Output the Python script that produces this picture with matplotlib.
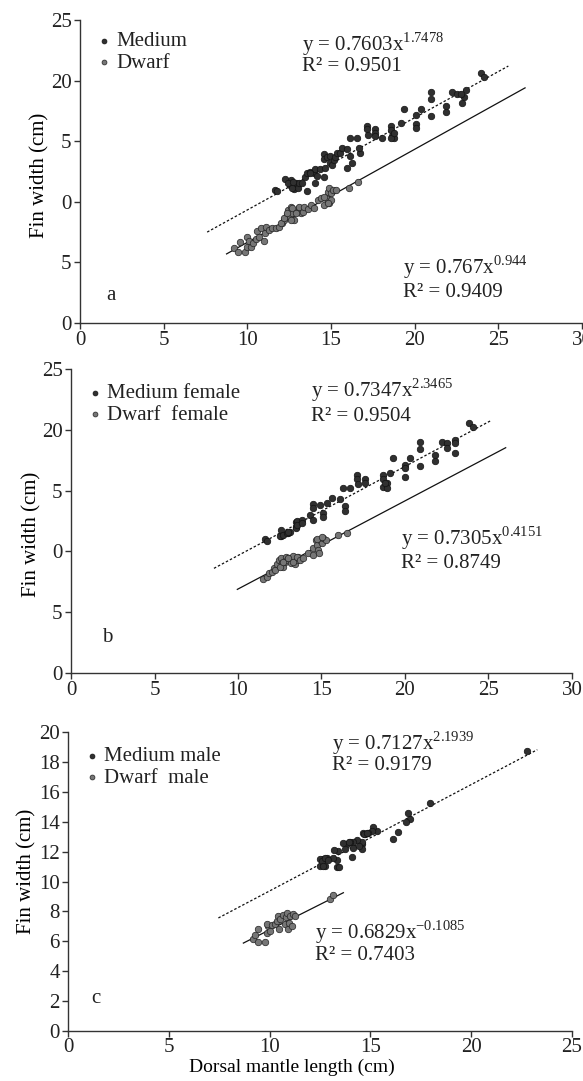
import matplotlib
matplotlib.use("Agg")
import matplotlib.pyplot as plt

plt.rcParams['font.family'] = ['Liberation Serif', 'DejaVu Serif']
plt.rcParams['mathtext.fontset'] = 'custom'
plt.rcParams['mathtext.rm'] = 'Liberation Serif'
plt.rcParams['font.size'] = 15
plt.rcParams['text.color'] = '#222222'

# ---- panel a: all animals ----
a_med_x = [11.64, 11.76, 12.6, 12.56, 12.8, 12.9, 13.0, 13.1, 12.26, 12.46, 12.66, 12.76,
           13.26, 13.56, 13.46, 13.56, 13.76, 13.96, 14.06, 14.36, 14.16, 14.56, 14.06, 13.76,
           14.56, 14.56, 14.66, 14.76, 14.96, 14.96, 15.06, 15.16, 15.26, 15.36, 15.56, 15.66,
           15.96, 16.16, 16.76, 16.26, 15.96, 16.7, 17.16, 17.16, 17.66, 17.66, 17.24, 17.66,
           18.06, 16.56, 16.16, 18.56, 18.56, 18.66, 18.76, 18.56, 18.76, 19.16, 19.36, 20.36,
           20.06, 20.06, 20.06, 21.86, 21.86, 20.96, 20.96, 20.96, 22.26, 22.56, 23.06, 22.96,
           22.86, 22.76, 23.95, 24.15]
a_med_y = [10.97, 10.92, 11.8, 11.39, 11.03, 11.52, 11.11, 11.57, 11.84, 11.57, 11.1, 11.65,
           11.52, 10.91, 12.06, 12.39, 12.47, 12.39, 12.67, 12.67, 12.12, 12.06, 11.57, 12.34,
           13.95, 13.5, 12.81, 13.67, 13.78, 13.17, 13.04, 13.45, 13.72, 14.0, 14.0, 14.42,
           14.33, 13.78, 14.05, 13.22, 12.81, 14.42, 16.25, 15.98, 15.98, 15.7, 15.51, 15.43,
           15.24, 15.24, 15.24, 16.25, 15.92, 15.43, 15.24, 15.24, 15.7, 16.53, 17.66, 17.66,
           17.16, 16.39, 16.11, 17.93, 17.43, 19.03, 18.46, 17.05, 19.03, 18.9, 19.22, 18.67,
           18.13, 18.9, 20.6, 20.27]
a_dw_x = [9.2, 9.46, 9.56, 9.86, 9.96, 10.0, 10.1, 10.2, 10.36, 10.5, 10.6, 10.7, 10.8, 11.0,
          11.06, 11.1, 11.3, 11.46, 11.7, 11.9, 12.1, 12.2, 12.36, 12.46, 12.56, 12.7, 12.6,
          12.8, 13.0, 13.1, 13.2, 12.0, 12.2, 12.4, 12.7, 12.6, 12.9, 13.1, 13.3, 13.4, 13.6,
          13.8, 14.0, 14.2, 14.4, 14.6, 14.7, 14.8, 14.9, 15.0, 15.1, 14.9, 15.0, 15.3, 16.1,
          16.6, 14.6, 14.8]
a_dw_y = [6.16, 5.88, 6.66, 5.88, 6.3, 7.07, 6.8, 6.3, 6.63, 6.91, 7.62, 7.12, 7.81, 6.8,
          7.4, 7.9, 7.67, 7.87, 7.81, 7.95, 8.28, 8.5, 8.91, 9.32, 8.77, 9.05, 9.55,
          8.5, 9.18, 9.46, 9.05, 8.22, 8.63, 9.05, 9.46, 8.5, 9.05, 9.6, 9.18, 9.6, 9.38,
          9.74, 9.46, 10.15, 10.29, 9.74, 10.29, 10.84, 11.11, 10.7, 10.97, 9.87, 10.15, 10.97, 11.11,
          11.66, 10.42, 9.87]
a_med_fit_x = [7.6, 25.6]
a_med_fit_y = [7.5, 21.2]
a_dw_fit_x = [8.76, 26.6]
a_dw_fit_y = [5.7, 19.4]

# ---- panel b: females ----
b_med_x = [11.62, 11.72, 12.57, 12.57, 13.01, 13.11, 13.47, 13.47, 12.51, 12.67, 12.91, 13.01,
           13.47, 13.51, 13.51, 13.81, 13.81, 14.31, 14.51, 15.11, 15.11, 14.51, 14.51, 14.91,
           15.31, 15.6, 16.11, 16.41, 16.41, 16.31, 16.71, 17.11, 17.11, 17.6, 17.6, 17.21,
           18.7, 18.7, 18.7, 18.9, 18.9, 18.8, 19.1, 19.3, 20.3, 20.0, 20.0, 20.0, 21.8, 21.8,
           20.9, 20.9, 20.9, 22.2, 22.5, 22.5, 23.0, 23.0, 23.0, 23.85, 24.05]
b_med_y = [10.99, 10.88, 11.76, 11.27, 11.54, 11.62, 12.44, 12.03, 11.27, 11.35, 11.49, 11.62,
           11.9, 12.5, 12.17, 12.58, 12.31, 12.99, 12.58, 13.13, 12.86, 13.87, 13.54, 13.82,
           13.95, 14.42, 14.28, 13.73, 13.35, 15.24, 15.24, 16.28, 15.93, 15.93, 15.6, 15.54,
           16.28, 15.93, 15.32, 15.6, 15.19, 15.6, 16.47, 17.65, 17.65, 17.1, 16.83, 16.14, 17.93, 17.46,
           19.02, 18.4, 17.02, 19.02, 18.94, 18.47, 18.12, 19.16, 18.89, 20.58, 20.26]
b_dw_x = [11.52, 11.72, 11.87, 12.02, 12.16, 12.22, 12.35, 12.48, 12.56, 12.62, 12.71, 12.81,
          12.87, 12.95, 13.07, 13.16, 13.27, 13.41, 13.51, 13.61, 12.51, 12.71, 13.01, 13.31,
          13.51, 13.71, 13.91, 14.21, 14.51, 14.51, 14.67, 14.71, 14.81, 14.91, 14.87, 15.01,
          15.11, 15.27, 14.71, 16.01, 16.51, 15.01]
b_dw_y = [7.7, 7.92, 8.2, 8.33, 8.61, 8.47, 8.96, 9.29, 9.43, 9.02, 8.74, 9.15,
          9.56, 9.29, 9.43, 9.07, 9.62, 8.96, 9.29, 9.56, 8.74, 9.15, 9.43, 9.15,
          9.56, 9.29, 9.43, 9.84, 9.7, 10.25, 10.94, 10.53, 10.12, 10.94, 9.84, 10.66,
          11.07, 10.94, 10.99, 11.35, 11.54, 11.21]
b_med_fit_x = [8.56, 25.13]
b_med_fit_y = [8.61, 20.75]
b_dw_fit_x = [9.96, 26.03]
b_dw_fit_y = [6.88, 18.53]

# ---- panel c: males ----
c_med_x = [22.75, 17.96, 16.88, 16.96, 16.77, 16.39, 16.1, 15.31, 15.15, 15.06, 14.9, 14.73,
           14.65, 14.57, 14.57, 14.57, 14.32, 14.15, 13.99, 13.82, 13.66, 13.74, 14.15, 14.07,
           13.41, 13.36, 13.33, 13.16, 12.83, 12.66, 12.5, 12.5, 12.77, 12.58, 12.75, 12.88,
           12.63, 13.21, 13.46, 13.95, 14.45, 14.7, 14.82]
c_med_y = [18.71, 15.28, 14.6, 14.18, 13.97, 13.31, 12.87, 13.4, 13.68, 13.36, 13.25, 13.18,
           13.25, 12.48, 12.15, 12.66, 12.81, 12.66, 12.66, 12.52, 12.59, 12.15, 12.26, 11.61,
           12.04, 11.0, 11.43, 11.56, 11.54, 11.5, 11.5, 11.06, 11.06, 11.34, 11.56, 11.45,
           11.06, 12.09, 11.0, 12.66, 12.37, 13.2, 13.25]
c_dw_x = [9.16, 9.28, 9.44, 9.44, 9.77, 9.86, 9.94, 9.86, 10.02, 10.1, 10.27, 10.35, 10.43,
          10.48, 10.52, 10.65, 10.76, 10.81, 10.88, 10.93, 10.98, 11.01, 11.1, 11.18, 11.26,
          13.0, 13.13]
c_dw_y = [6.18, 6.4, 6.8, 5.97, 5.97, 6.54, 7.02, 7.13, 6.69, 7.06, 7.13, 7.34, 7.67,
          6.8, 7.5, 7.78, 7.13, 7.63, 7.89, 6.8, 7.24, 7.67, 7.02, 7.85, 7.72,
          8.81, 9.09]
c_med_fit_x = [7.46, 23.28]
c_med_fit_y = [7.56, 18.82]
c_dw_fit_x = [8.7, 13.66]
c_dw_fit_y = [5.88, 9.25]

ab_yticks = [0, 5, 10, 15, 20, 25]
ab_yticklabels = ['0', '5', '0', '5', '20', '25']
c_yticks = [0, 2, 4, 6, 8, 10, 12, 14, 16, 18, 20]

MED_COLOR = '#303030'
DW_COLOR = '#767676'
AX_COLOR = '#333333'


def style_axes(ax, xmax, ymax, xticks, yticks, yticklabels=None):
    ax.set_xlim(0, xmax)
    ax.set_ylim(0, ymax)
    ax.set_xticks(xticks)
    ax.set_yticks(yticks)
    if yticklabels is not None:
        ax.set_yticklabels(yticklabels)
    for side in ['top', 'right']:
        ax.spines[side].set_visible(False)
    for side in ['left', 'bottom']:
        ax.spines[side].set_color(AX_COLOR)
        ax.spines[side].set_linewidth(1.0)
    ax.tick_params(direction='out', length=4, width=1, color=AX_COLOR,
                   labelcolor='#222222', labelsize=15, pad=2)


def draw_panel(ax, med, dw, med_fit, dw_fit, labels):
    ax.scatter(med[0], med[1], s=22, c=MED_COLOR, edgecolors='#111111',
               linewidths=0.5, zorder=3, label=labels[0])
    ax.scatter(dw[0], dw[1], s=22, c=DW_COLOR, edgecolors='#222222',
               linewidths=0.5, zorder=3, label=labels[1])
    ax.plot(med_fit[0], med_fit[1], color='#111111', lw=0.9,
            linestyle=(0, (2, 1.6)), zorder=2)
    ax.plot(dw_fit[0], dw_fit[1], color='#111111', lw=0.9, zorder=2)


def add_legend(ax, x, y):
    ax.legend(loc='upper left', bbox_to_anchor=(x, y), frameon=False,
              borderpad=0, borderaxespad=0, labelspacing=0.1,
              handlelength=0.6, handletextpad=0.3, markerscale=0.75,
              fontsize=15)


def add_eq(ax, x, y_eq, y_r2, eq, r2):
    ax.text(x, y_eq, eq, transform=ax.transAxes, ha='left', va='center', fontsize=15)
    ax.text(x, y_r2, r2, transform=ax.transAxes, ha='left', va='center', fontsize=15)


fig = plt.figure(figsize=(5.83, 10.81), dpi=100)
ax_a = fig.add_axes([0.1372, 0.7012, 0.861, 0.2803])
ax_b = fig.add_axes([0.1218, 0.3774, 0.8593, 0.2812])
ax_c = fig.add_axes([0.1166, 0.0463, 0.8645, 0.2765])

# panel a
draw_panel(ax_a, (a_med_x, a_med_y), (a_dw_x, a_dw_y),
           (a_med_fit_x, a_med_fit_y), (a_dw_fit_x, a_dw_fit_y), ['Medium', 'Dwarf'])
style_axes(ax_a, 30, 25, [0, 5, 10, 15, 20, 25, 30], ab_yticks, ab_yticklabels)
add_legend(ax_a, 0.036, 0.962)
add_eq(ax_a, 0.442, 0.921, 0.845, r'y = 0.7603x$^{\mathrm{1.7478}}$', 'R² = 0.9501')
add_eq(ax_a, 0.643, 0.185, 0.102, r'y = 0.767x$^{\mathrm{0.944}}$', 'R² = 0.9409')
ax_a.text(0.062, 0.092, 'a', transform=ax_a.transAxes, ha='center', va='center')

# panel b
draw_panel(ax_b, (b_med_x, b_med_y), (b_dw_x, b_dw_y),
           (b_med_fit_x, b_med_fit_y), (b_dw_fit_x, b_dw_fit_y),
           ['Medium female', 'Dwarf  female'])
style_axes(ax_b, 30, 25, [0, 5, 10, 15, 20, 25, 30], ab_yticks, ab_yticklabels)
add_legend(ax_b, 0.035, 0.952)
add_eq(ax_b, 0.479, 0.931, 0.843, r'y = 0.7347x$^{\mathrm{2.3465}}$', 'R² = 0.9504')
add_eq(ax_b, 0.658, 0.443, 0.361, r'y = 0.7305x$^{\mathrm{0.4151}}$', 'R² = 0.8749')
ax_b.text(0.0725, 0.116, 'b', transform=ax_b.transAxes, ha='center', va='center')

# panel c
draw_panel(ax_c, (c_med_x, c_med_y), (c_dw_x, c_dw_y),
           (c_med_fit_x, c_med_fit_y), (c_dw_fit_x, c_dw_fit_y),
           ['Medium male', 'Dwarf  male'])
style_axes(ax_c, 25, 20, [0, 5, 10, 15, 20, 25], c_yticks)
ax_c.tick_params(axis='x', pad=1)
add_legend(ax_c, 0.035, 0.952)
add_eq(ax_c, 0.523, 0.963, 0.887, r'y = 0.7127x$^{\mathrm{2.1939}}$', 'R² = 0.9179')
add_eq(ax_c, 0.49, 0.33, 0.252, r'y = 0.6829x$^{\mathrm{-0.1085}}$', 'R² = 0.7403')
ax_c.text(0.056, 0.11, 'c', transform=ax_c.transAxes, ha='center', va='center')
ax_c.set_xlabel('Dorsal mantle length (cm)', fontsize=14)
ax_c.xaxis.set_label_coords(0.444, -0.093)

for ax, lx, ly in [(ax_a, -0.08, 0.488), (ax_b, -0.078, 0.457), (ax_c, -0.082, 0.535)]:
    ax.set_ylabel('Fin width (cm)', fontsize=15)
    ax.yaxis.label.set_verticalalignment('center')
    ax.yaxis.set_label_coords(lx, ly)

fig.savefig('out.png', dpi=100)
